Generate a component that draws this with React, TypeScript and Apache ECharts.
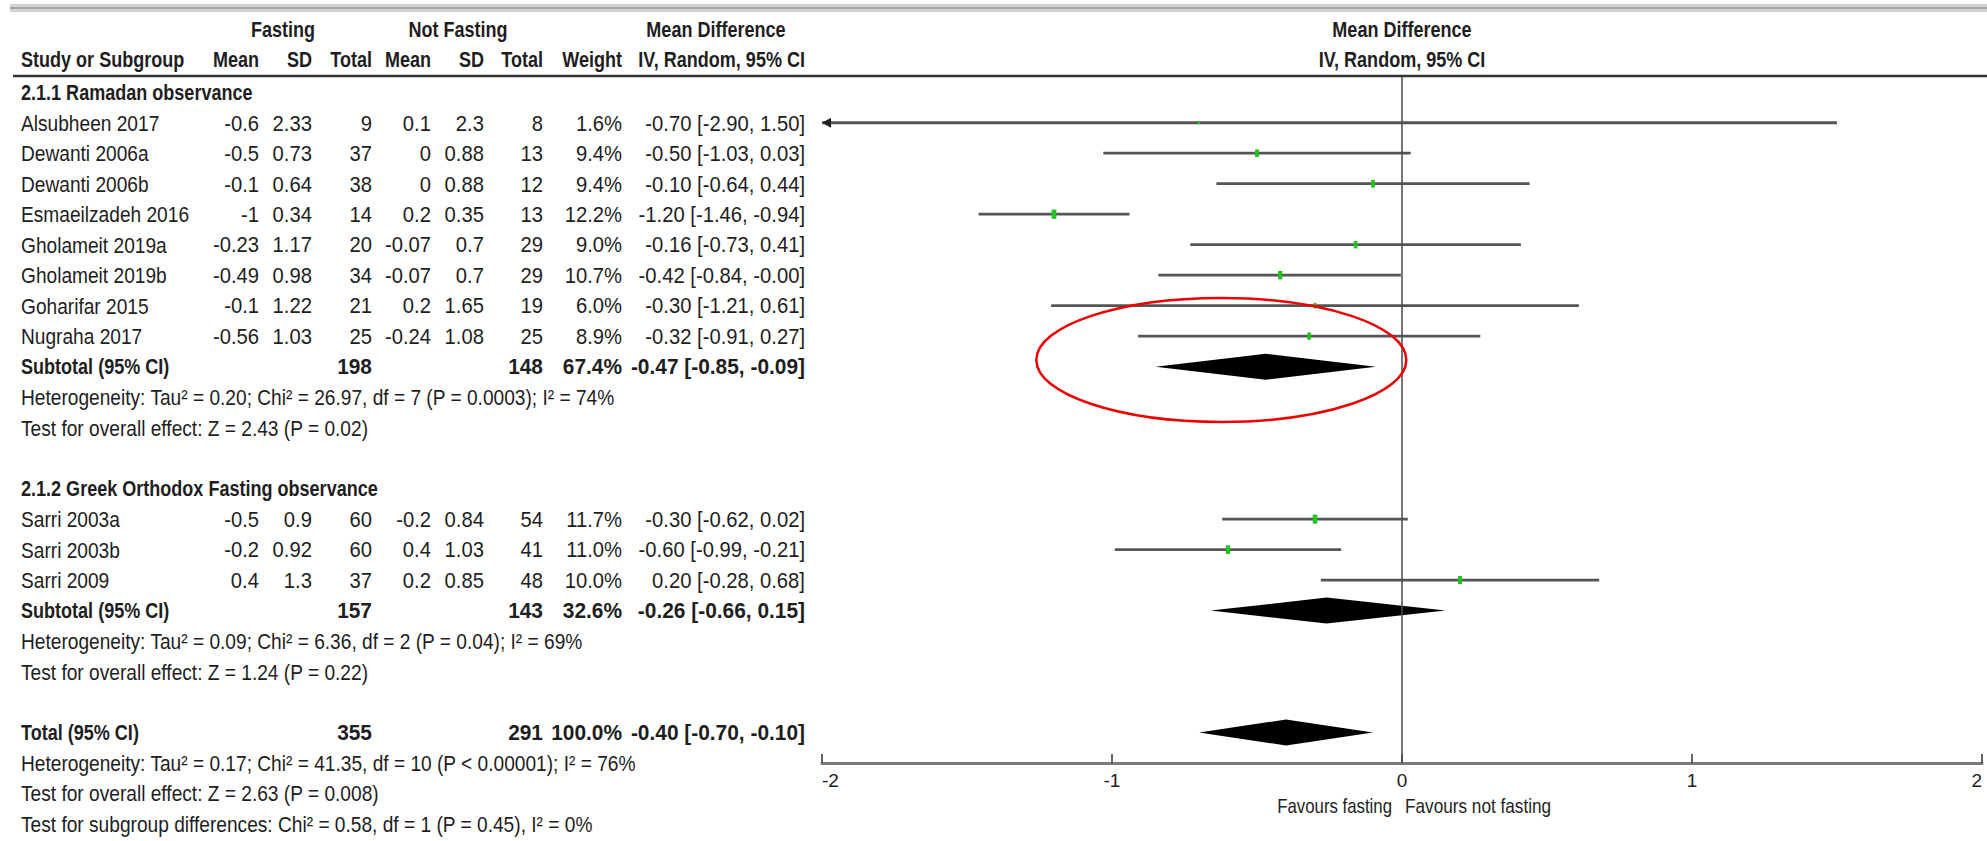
import React, { useEffect, useRef } from "react";
import * as echarts from "echarts";

// ---------- data ----------
const studies = [
  "Alsubheen 2017", "Dewanti 2006a", "Dewanti 2006b", "Esmaeilzadeh 2016",
  "Gholameit 2019a", "Gholameit 2019b", "Goharifar 2015", "Nugraha 2017",
  "Sarri 2003a", "Sarri 2003b", "Sarri 2009",
];
const studyRows = [0, 1, 2, 3, 4, 5, 6, 7, 13, 14, 15];
const fastMean = [-0.6, -0.5, -0.1, -1, -0.23, -0.49, -0.1, -0.56, -0.5, -0.2, 0.4];
const fastSD = [2.33, 0.73, 0.64, 0.34, 1.17, 0.98, 1.22, 1.03, 0.9, 0.92, 1.3];
const fastN = [9, 37, 38, 14, 20, 34, 21, 25, 60, 60, 37];
const ctrlMean = [0.1, 0, 0, 0.2, -0.07, -0.07, 0.2, -0.24, -0.2, 0.4, 0.2];
const ctrlSD = [2.3, 0.88, 0.88, 0.35, 0.7, 0.7, 1.65, 1.08, 0.84, 1.03, 0.85];
const ctrlN = [8, 13, 12, 13, 29, 29, 19, 25, 54, 41, 48];
const weights = [1.6, 9.4, 9.4, 12.2, 9.0, 10.7, 6.0, 8.9, 11.7, 11.0, 10.0];
const md = [-0.7, -0.5, -0.1, -1.2, -0.16, -0.42, -0.3, -0.32, -0.3, -0.6, 0.2];
const ciLow = [-2.9, -1.03, -0.64, -1.46, -0.73, -0.84, -1.21, -0.91, -0.62, -0.99, -0.28];
const ciHigh = [1.5, 0.03, 0.44, -0.94, 0.41, -0.004, 0.61, 0.27, 0.02, -0.21, 0.68];

const pooledLabels = ["Subtotal (95% CI)", "Subtotal (95% CI)", "Total (95% CI)"];
const pooledRows = [8, 16, 20];
const pooledFastN = [198, 157, 355];
const pooledCtrlN = [148, 143, 291];
const pooledWeight = [67.4, 32.6, 100.0];
const pooledMD = [-0.47, -0.26, -0.4];
const pooledLow = [-0.85, -0.66, -0.7];
const pooledHigh = [-0.09, 0.15, -0.1];

const groupHeadings = ["2.1.1 Ramadan observance", "2.1.2 Greek Orthodox Fasting observance"];
const groupRows = [-1, 12];

const noteLines = [
  "Heterogeneity: Tau\u00b2 = 0.20; Chi\u00b2 = 26.97, df = 7 (P = 0.0003); I\u00b2 = 74%",
  "Test for overall effect: Z = 2.43 (P = 0.02)",
  "Heterogeneity: Tau\u00b2 = 0.09; Chi\u00b2 = 6.36, df = 2 (P = 0.04); I\u00b2 = 69%",
  "Test for overall effect: Z = 1.24 (P = 0.22)",
  "Heterogeneity: Tau\u00b2 = 0.17; Chi\u00b2 = 41.35, df = 10 (P < 0.00001); I\u00b2 = 76%",
  "Test for overall effect: Z = 2.63 (P = 0.008)",
  "Test for subgroup differences: Chi\u00b2 = 0.58, df = 1 (P = 0.45), I\u00b2 = 0%",
];
const noteRows = [9, 10, 17, 18, 21, 22, 23];

const xTicks = [-2, -1, 0, 1, 2];
const favourLeft = "Favours fasting";
const favourRight = "Favours not fasting";

// ---------- layout ----------
const W = 1987;
const H = 841;
const GRID_LEFT = 822;
const GRID_RIGHT = 5;
const GRID_TOP = 77;
const GRID_BOTTOM = 78;
const Y_MIN = -1.5;
const Y_MAX = 21;
const FONT = '"Liberation Sans", Arial, sans-serif';
const FS = 22;
const SX_BOLD = 0.82;
const SX_REG = 0.87;
const SX_NUM = 0.92;
const SX_NUM_BOLD = 0.95;
const TXT = "#1e1e1e";

const rowY = (r: number) =>
  GRID_TOP + ((r - Y_MIN) / (Y_MAX - Y_MIN)) * (H - GRID_TOP - GRID_BOTTOM);
const xPx = (v: number) =>
  GRID_LEFT + ((v - xTicks[0]) / (xTicks[xTicks.length - 1] - xTicks[0])) * (W - GRID_LEFT - GRID_RIGHT);

const fmtCI = (m: number, lo: number, hi: number) =>
  `${m.toFixed(2)} [${lo.toFixed(2)}, ${hi.toFixed(2)}]`;

const COL = {
  label: 21,
  mean1: 259,
  sd1: 312,
  n1: 372,
  mean2: 431,
  sd2: 484,
  n2: 543,
  weight: 622,
  ci: 805,
};

function txt(x: number, y: number, text: string, align: string, bold = false, sx?: number, size = FS): any {
  return {
    type: "text",
    x,
    y,
    scaleX: sx ?? (bold ? SX_BOLD : SX_REG),
    style: {
      text,
      fill: TXT,
      font: `${bold ? "bold " : ""}${size}px ${FONT}`,
      textAlign: align,
      textVerticalAlign: "middle",
    },
    silent: true,
  };
}

function buildGraphics(): any[] {
  const g: any[] = [];
  // top gray bar
  g.push({ type: "rect", shape: { x: 10, y: 4, width: W - 10, height: 8 }, style: { fill: "#d2d2d2" }, silent: true });
  g.push({ type: "line", shape: { x1: 10, y1: 8, x2: W, y2: 8 }, style: { stroke: "#a8a8a8", lineWidth: 2 }, silent: true });
  // header underline
  g.push({ type: "line", shape: { x1: 13, y1: 76, x2: W, y2: 76 }, style: { stroke: "#333", lineWidth: 2.5 }, silent: true });

  // headers
  const h1 = rowY(-3) - 2;
  const h2 = rowY(-2) - 2;
  g.push(txt(283, h1, "Fasting", "center", true));
  g.push(txt(458, h1, "Not Fasting", "center", true));
  g.push(txt(716, h1, "Mean Difference", "center", true));
  g.push(txt(xPx(0), h1, "Mean Difference", "center", true));
  g.push(txt(COL.label, h2, "Study or Subgroup", "left", true));
  g.push(txt(COL.mean1, h2, "Mean", "right", true));
  g.push(txt(COL.sd1, h2, "SD", "right", true));
  g.push(txt(COL.n1, h2, "Total", "right", true));
  g.push(txt(COL.mean2, h2, "Mean", "right", true));
  g.push(txt(COL.sd2, h2, "SD", "right", true));
  g.push(txt(COL.n2, h2, "Total", "right", true));
  g.push(txt(COL.weight, h2, "Weight", "right", true));
  g.push(txt(COL.ci, h2, "IV, Random, 95% CI", "right", true));
  g.push(txt(xPx(0), h2, "IV, Random, 95% CI", "center", true));

  groupHeadings.forEach((s, i) => g.push(txt(COL.label, rowY(groupRows[i]), s, "left", true)));

  studies.forEach((s, i) => {
    const y = rowY(studyRows[i]);
    g.push(txt(COL.label, y, s, "left"));
    g.push(txt(COL.mean1, y, String(fastMean[i]), "right", false, SX_NUM));
    g.push(txt(COL.sd1, y, String(fastSD[i]), "right", false, SX_NUM));
    g.push(txt(COL.n1, y, String(fastN[i]), "right", false, SX_NUM));
    g.push(txt(COL.mean2, y, String(ctrlMean[i]), "right", false, SX_NUM));
    g.push(txt(COL.sd2, y, String(ctrlSD[i]), "right", false, SX_NUM));
    g.push(txt(COL.n2, y, String(ctrlN[i]), "right", false, SX_NUM));
    g.push(txt(COL.weight, y, weights[i].toFixed(1) + "%", "right", false, SX_NUM));
    g.push(txt(COL.ci, y, fmtCI(md[i], ciLow[i], ciHigh[i]), "right", false, SX_NUM));
  });

  pooledLabels.forEach((s, i) => {
    const y = rowY(pooledRows[i]);
    g.push(txt(COL.label, y, s, "left", true));
    g.push(txt(COL.n1, y, String(pooledFastN[i]), "right", true, SX_NUM_BOLD));
    g.push(txt(COL.n2, y, String(pooledCtrlN[i]), "right", true, SX_NUM_BOLD));
    g.push(txt(COL.weight, y, pooledWeight[i].toFixed(1) + "%", "right", true, SX_NUM_BOLD));
    g.push(txt(COL.ci, y, fmtCI(pooledMD[i], pooledLow[i], pooledHigh[i]), "right", true, SX_NUM_BOLD));
  });

  noteLines.forEach((s, i) => g.push(txt(COL.label, rowY(noteRows[i]), s, "left")));

  // favours labels
  const fy = 806;
  g.push(txt(xPx(0) - 10, fy, favourLeft, "right", false, 0.84, 20));
  g.push(txt(xPx(0) + 3, fy, favourRight, "left", false, 0.86, 20));

  // red annotation ellipse around first subtotal
  g.push({
    type: "ellipse",
    z: 100,
    shape: { cx: xPx(-0.623), cy: rowY(7.78), rx: 185, ry: 62 },
    style: { fill: "none", stroke: "#ee0000", lineWidth: 2.5 },
    silent: true,
  });
  return g;
}

export default function App() {
  const ref = useRef<HTMLDivElement>(null);
  useEffect(() => {
    document.body.style.margin = "0";
    if (!ref.current) return;
    const chart = echarts.init(ref.current, null, { renderer: "svg" });

    const studyData = studies.map((_, i) => [ciLow[i], ciHigh[i], md[i], studyRows[i], weights[i]]);
    const pooledData = pooledLabels.map((_, i) => [pooledLow[i], pooledHigh[i], pooledMD[i], pooledRows[i]]);
    const xmin = xTicks[0];
    const xmax = xTicks[xTicks.length - 1];

    const option: any = {
      animation: false,
      backgroundColor: "#ffffff",
      grid: { left: GRID_LEFT, right: GRID_RIGHT, top: GRID_TOP, bottom: GRID_BOTTOM, containLabel: false },
      xAxis: {
        type: "value",
        min: xmin,
        max: xmax,
        interval: 1,
        position: "bottom",
        axisLine: { show: true, onZero: false, lineStyle: { color: "#7a7a7a", width: 3 } },
        axisTick: { show: true, inside: true, length: 9, lineStyle: { color: "#333", width: 1.5 } },
        axisLabel: {
          fontSize: 19,
          color: "#222",
          fontFamily: FONT,
          margin: 8,
          alignMinLabel: "left",
          alignMaxLabel: "right",
        },
        splitLine: { show: false },
      },
      yAxis: { type: "value", min: Y_MIN, max: Y_MAX, inverse: true, show: false },
      series: [
        {
          type: "custom",
          name: "studies",
          data: studyData,
          clip: false,
          renderItem: (_p: any, api: any) => {
            const lo = api.value(0);
            const hi = api.value(1);
            const m = api.value(2);
            const row = api.value(3);
            const w = api.value(4);
            const pLo = api.coord([Math.max(lo, xmin), row]);
            const pHi = api.coord([Math.min(hi, xmax), row]);
            const pM = api.coord([m, row]);
            const h = 2 + w * 0.6;
            const wd = Math.max(2, h * 0.5);
            const children: any[] = [
              { type: "line", shape: { x1: pLo[0], y1: pLo[1], x2: pHi[0], y2: pHi[1] }, style: { stroke: "#555555", lineWidth: 2.8 } },
              { type: "rect", shape: { x: pM[0] - wd / 2, y: pM[1] - h / 2, width: wd, height: h }, style: { fill: "#1fc41f" } },
            ];
            if (lo < xmin) {
              children.push({
                type: "polygon",
                shape: { points: [[pLo[0], pLo[1]], [pLo[0] + 9, pLo[1] - 5], [pLo[0] + 9, pLo[1] + 5]] },
                style: { fill: "#222" },
              });
            }
            return { type: "group", children };
          },
          markLine: {
            silent: true,
            symbol: ["none", "none"],
            label: { show: false },
            lineStyle: { color: "#4a4a4a", width: 1.5, type: "solid" },
            data: [{ xAxis: 0 }],
          },
          z: 3,
        },
        {
          type: "custom",
          name: "pooled",
          data: pooledData,
          clip: false,
          renderItem: (_p: any, api: any) => {
            const pLo = api.coord([api.value(0), api.value(3)]);
            const pHi = api.coord([api.value(1), api.value(3)]);
            const pM = api.coord([api.value(2), api.value(3)]);
            const hh = 13;
            return {
              type: "polygon",
              shape: { points: [[pLo[0], pLo[1]], [pM[0], pM[1] - hh], [pHi[0], pHi[1]], [pM[0], pM[1] + hh]] },
              style: { fill: "#000" },
            };
          },
          z: 4,
        },
      ],
      graphic: buildGraphics(),
    };
    chart.setOption(option);
    return () => chart.dispose();
  }, []);
  return <div ref={ref} style={{ width: W, height: H }} />;
}
